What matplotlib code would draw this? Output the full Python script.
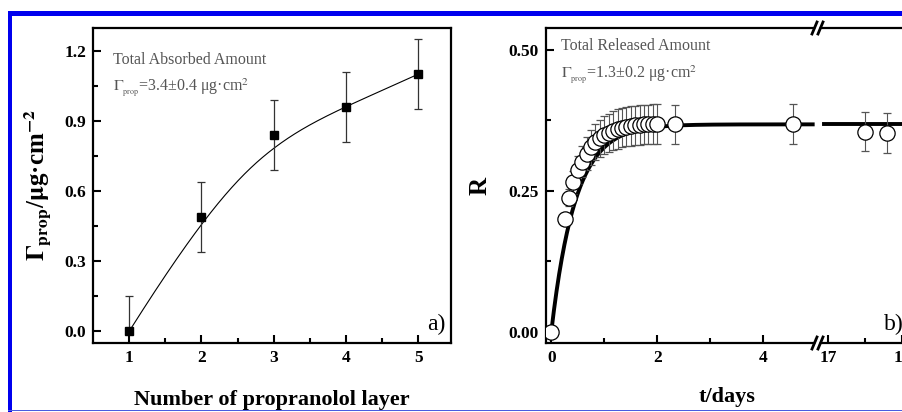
import numpy as np
import matplotlib
matplotlib.use("Agg")
import matplotlib.pyplot as plt
from matplotlib.lines import Line2D
from matplotlib.patches import Rectangle, Polygon

plt.rcParams["font.family"] = ["Liberation Serif", "DejaVu Serif"]
plt.rcParams["mathtext.fontset"] = "stix"

# a) absorbed amount vs layer number
layers = [1, 2, 3, 4, 5]
gamma = [0.0, 0.49, 0.84, 0.96, 1.10]
gamma_err_lo = [0.0, 0.15, 0.15, 0.15, 0.15]
gamma_err_hi = [0.15, 0.15, 0.15, 0.15, 0.15]

# b) release curve
t_days = [0.0, 0.25, 0.333, 0.417, 0.5, 0.583, 0.667, 0.75, 0.833, 0.917, 1.0,
          1.083, 1.167, 1.25, 1.333, 1.417, 1.5, 1.583, 1.667, 1.75, 1.833,
          1.917, 2.0, 2.33, 4.55, 18.0, 18.6]
R = [0.0, 0.200, 0.238, 0.265, 0.287, 0.302, 0.316, 0.327, 0.336, 0.343, 0.349,
     0.353, 0.357, 0.360, 0.362, 0.364, 0.365, 0.366, 0.367, 0.368, 0.368,
     0.369, 0.369, 0.368, 0.369, 0.355, 0.353]
R_err = [0.01, 0.01, 0.015, 0.02, 0.024, 0.027, 0.029, 0.031, 0.032, 0.033, 0.034,
         0.034, 0.035, 0.035, 0.035, 0.035, 0.035, 0.035, 0.035, 0.035, 0.035,
         0.035, 0.035, 0.035, 0.035, 0.035, 0.035]

# first-order release fit
R_inf = 0.368
k_rel = 2.2

W, H = 902, 412
fig = plt.figure(figsize=(W / 100, H / 100), dpi=100)


def px_box(x0, x1, y0, y1):
    return [x0 / W, 1 - y1 / H, (x1 - x0) / W, (y1 - y0) / H]


def bspline(px, py, n=300, deg=3):
    # clamped uniform B-spline using the points as control points
    m = len(px)
    inner = np.linspace(0, 1, m - deg + 1)
    knots = np.concatenate([[0] * deg, inner, [1] * deg])
    u = np.linspace(0, 1 - 1e-9, n)

    def basis(i, p, u):
        if p == 0:
            return ((knots[i] <= u) & (u < knots[i + 1])).astype(float)
        a = 0.0
        if knots[i + p] != knots[i]:
            a = (u - knots[i]) / (knots[i + p] - knots[i]) * basis(i, p - 1, u)
        b = 0.0
        if knots[i + p + 1] != knots[i + 1]:
            b = (knots[i + p + 1] - u) / (knots[i + p + 1] - knots[i + 1]) * basis(i + 1, p - 1, u)
        return a + b

    N = np.array([basis(i, deg, u) for i in range(m)])
    return N.T @ np.asarray(px, float), N.T @ np.asarray(py, float)


def style(ax):
    for s in ax.spines.values():
        s.set_linewidth(1.6)
    ax.tick_params(which="both", direction="in", top=False, right=False,
                   width=1.5, labelsize=12.5, pad=5)
    ax.tick_params(which="major", length=6)
    ax.tick_params(which="minor", length=3.5)
    for lab in ax.get_xticklabels() + ax.get_yticklabels():
        lab.set_fontweight("bold")


# ---- panel a ----
ax_a = fig.add_axes(px_box(93, 451, 28, 343))
cx, cy = bspline(layers, gamma)
ax_a.plot(cx, cy, color="black", lw=0.8)
ax_a.errorbar(layers, gamma, yerr=[gamma_err_lo, gamma_err_hi], fmt="s",
              color="black", ms=6, ecolor="#333333", elinewidth=0.9,
              capsize=3, capthick=0.9)
ax_a.set_xlim(0.5, 5.45)
ax_a.set_ylim(-0.05, 1.297)
ax_a.set_xticks([1, 2, 3, 4, 5])
ax_a.set_xticks([1.5, 2.5, 3.5, 4.5], minor=True)
ax_a.set_yticks([0.0, 0.3, 0.6, 0.9, 1.2])
ax_a.set_yticks([0.15, 0.45, 0.75, 1.05], minor=True)
ax_a.set_yticklabels(["0.0", "0.3", "0.6", "0.9", "1.2"])
style(ax_a)
ax_a.set_xlabel("Number of propranolol layer", fontsize=16, fontweight="bold",
                labelpad=17)
ax_a.set_ylabel(r"$\mathbf{\Gamma_{prop}}$/$\mathbf{\mu}$g·cm$^{\mathbf{-2}}$",
                fontsize=18, fontweight="bold", labelpad=8)
ax_a.text(0.055, 0.885, "Total Absorbed Amount", transform=ax_a.transAxes,
          fontsize=11.5, color="#555555")
ax_a.text(0.055, 0.80, r"$\Gamma_{_{\rm prop}}$=3.4±0.4 μg·cm$^2$",
          transform=ax_a.transAxes, fontsize=11.5, color="#555555")
ax_a.text(0.985, 0.04, "a)", transform=ax_a.transAxes, ha="right",
          fontsize=17)

# ---- panel b (broken x axis) ----
ax_b1 = fig.add_axes(px_box(546, 818, 28, 343))
ax_b2 = fig.add_axes(px_box(818, 1000, 28, 343))

t = np.asarray(t_days)
Rv = np.asarray(R)
Re = np.asarray(R_err)

tf1 = np.linspace(0, 4.93, 300)
ax_b1.plot(tf1, R_inf * (1 - np.exp(-k_rel * tf1)), color="black", lw=2.8, zorder=2)
tf2 = np.linspace(16.88, 22, 50)
ax_b2.plot(tf2, R_inf * (1 - np.exp(-k_rel * tf2)), color="black", lw=2.8, zorder=2)

for ax in (ax_b1, ax_b2):
    ax.errorbar(t, Rv, yerr=Re, fmt="o", ms=11, mfc="white", mec="black",
                mew=0.9, ecolor="#555555", elinewidth=0.8, capsize=3,
                capthick=0.8, zorder=3)
    ax.set_ylim(-0.02, 0.539)

ax_b1.set_xlim(-0.1, 5.03)
ax_b1.set_xticks([0, 2, 4])
ax_b1.set_xticks([1, 3, 5], minor=True)
ax_b1.set_yticks([0.0, 0.25, 0.5])
ax_b1.set_yticklabels(["0.00", "0.25", "0.50"])
ax_b1.set_yticks([0.125, 0.375], minor=True)
ax_b1.spines["right"].set_visible(False)

ax_b2.set_xlim(16.73, 21.65)
ax_b2.set_xticks([17, 19, 21])
ax_b2.set_xticks([18, 20], minor=True)
ax_b2.set_yticks([])
ax_b2.spines["left"].set_visible(False)
ax_b2.spines["right"].set_visible(False)

style(ax_b1)
style(ax_b2)
ax_b2.tick_params(left=False, which="both")

ax_b1.set_ylabel("R", fontsize=18, fontweight="bold", labelpad=12)
fig.text(727 / W, 1 - 397 / H, "t/days", ha="center", va="center",
         fontsize=16, fontweight="bold")
ax_b1.text(0.055, 0.93, "Total Released Amount", transform=ax_b1.transAxes,
           fontsize=11.5, color="#555555")
ax_b1.text(0.055, 0.84, r"$\Gamma_{_{\rm prop}}$=1.3±0.2 μg·cm$^2$",
           transform=ax_b1.transAxes, fontsize=11.5, color="#555555")
fig.text(884 / W, 1 - 330 / H, "b)", fontsize=17)

# break marks on the top and bottom spines
for yc in (28, 343):
    gap = Polygon([[(815 - 2) / W, 1 - (yc + 6) / H], [(820 - 2) / W, 1 - (yc - 6) / H],
                   [(820 + 2) / W, 1 - (yc - 6) / H], [(815 + 2) / W, 1 - (yc + 6) / H]],
                  closed=True, transform=fig.transFigure, facecolor="white",
                  edgecolor="none", zorder=10)
    fig.add_artist(gap)
    for dx in (-3, 3):
        fig.add_artist(Line2D([(815 + dx) / W, (820 + dx) / W],
                              [1 - (yc + 6) / H, 1 - (yc - 6) / H],
                              transform=fig.transFigure, color="black",
                              lw=2, zorder=11))

# blue frame
fig.add_artist(Rectangle((8 / W, 1 - 16 / H), 1, 5 / H, transform=fig.transFigure,
                         facecolor="#0000ee", edgecolor="none", zorder=20))
fig.add_artist(Rectangle((8 / W, 0), 4 / W, 1 - 11 / H, transform=fig.transFigure,
                         facecolor="#0000ee", edgecolor="none", zorder=20))
fig.add_artist(Rectangle((8 / W, 1 - 411 / H), 1, 1.2 / H, transform=fig.transFigure,
                         facecolor="#4a5ce0", edgecolor="none", zorder=20))

fig.savefig("out.png", dpi=100)
